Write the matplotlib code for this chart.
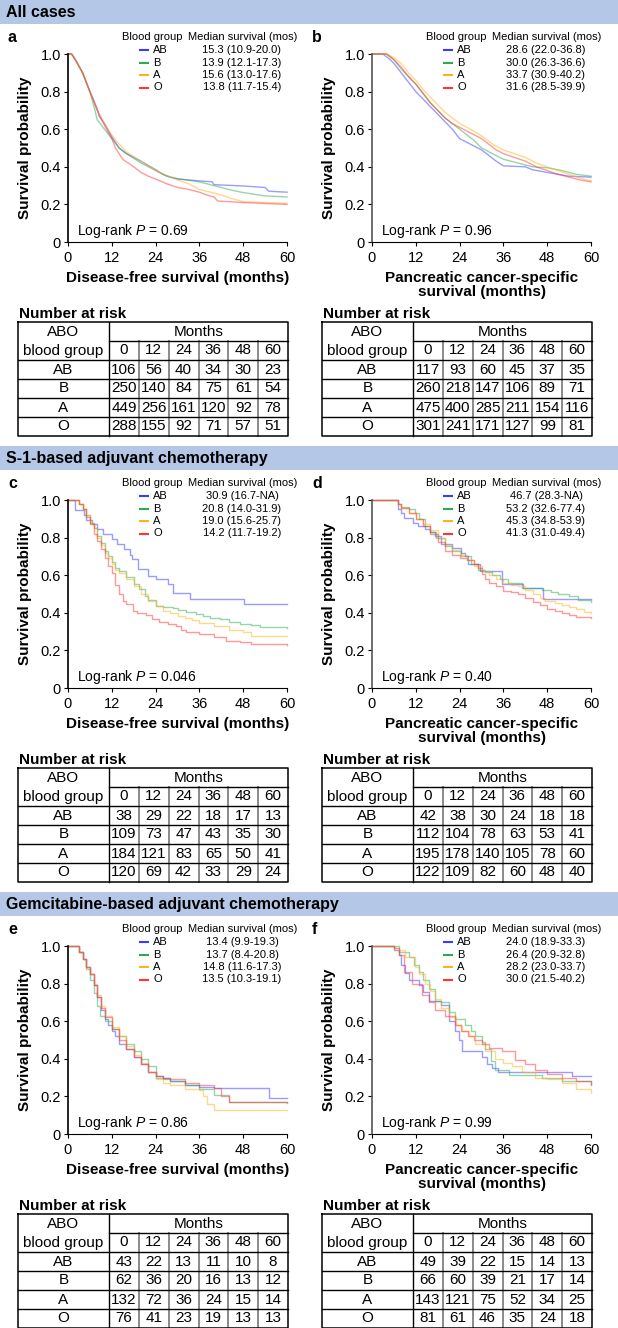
import numpy as np
import matplotlib
matplotlib.use('Agg')
import matplotlib.pyplot as plt

plt.rcParams['font.family'] = ['Liberation Sans', 'DejaVu Sans']
plt.rcParams['mathtext.fontset'] = 'custom'
plt.rcParams['mathtext.rm'] = 'Liberation Sans'
plt.rcParams['mathtext.it'] = 'Liberation Sans:italic'

groups = ['AB', 'B', 'A', 'O']
months = [0, 12, 24, 36, 48, 60]
cores = ['#3a3aff', '#2eaa55', '#ffb21e', '#ff3535']

# curvas (tempo em meses, probabilidade)
a_AB = [(0,1.0),(1,1.0),(2,0.97),(4,0.9),(6,0.8),(8,0.71),(8.5,0.67),(10,0.63),(12,0.56),(14,0.5),(16,0.47),(18,0.45),(20,0.43),(24,0.385),(26,0.36),(28,0.345),(30,0.335),(36,0.325),(39.5,0.32),(40,0.305),(48,0.298),(54,0.29),(55,0.27),(60,0.265)]
a_B = [(0,1.0),(1,1.0),(2,0.97),(4,0.9),(6,0.8),(7,0.73),(8,0.65),(10,0.6),(12,0.55),(14,0.5),(16,0.47),(20,0.42),(24,0.38),(27,0.35),(30,0.337),(36,0.32),(40,0.3),(42,0.29),(45,0.275),(48,0.263),(54,0.245),(60,0.24)]
a_A = [(0,1.0),(1,1.0),(2,0.97),(4,0.9),(6,0.8),(8,0.7),(10,0.63),(12,0.57),(14,0.52),(16,0.48),(20,0.43),(24,0.38),(27,0.355),(30,0.33),(33,0.31),(36,0.28),(39,0.265),(42,0.25),(45,0.23),(48,0.215),(54,0.21),(60,0.205)]
a_O = [(0,1.0),(1,1.0),(2,0.97),(4,0.9),(6,0.8),(8,0.7),(10,0.62),(12,0.55),(13,0.5),(14,0.47),(15,0.44),(18,0.4),(20,0.37),(22,0.35),(24,0.335),(27,0.31),(30,0.29),(33,0.28),(36,0.265),(38,0.25),(40,0.24),(41,0.218),(48,0.21),(54,0.205),(60,0.2)]

b_AB = [(0,1.0),(3,1.0),(5,0.97),(6,0.95),(8,0.9),(10,0.85),(12,0.8),(14,0.76),(16,0.72),(18,0.68),(20,0.64),(22,0.6),(24,0.55),(26,0.53),(28,0.51),(30,0.49),(32,0.46),(34,0.43),(36,0.405),(42,0.4),(44,0.384),(48,0.37),(54,0.35),(60,0.345)]
b_B = [(0,1.0),(4,1.0),(6,0.97),(8,0.92),(10,0.88),(12,0.84),(14,0.79),(16,0.74),(18,0.7),(20,0.66),(22,0.63),(24,0.6),(26,0.57),(28,0.54),(30,0.5),(33,0.47),(36,0.44),(40,0.42),(44,0.4),(48,0.395),(52,0.38),(56,0.36),(60,0.35)]
b_A = [(0,1.0),(4,1.0),(6,0.98),(8,0.95),(10,0.9),(12,0.86),(14,0.81),(16,0.77),(18,0.73),(20,0.69),(22,0.66),(24,0.63),(27,0.6),(30,0.565),(33,0.52),(36,0.49),(39,0.47),(42,0.45),(45,0.42),(48,0.40),(51,0.38),(54,0.36),(57,0.34),(60,0.325)]
b_O = [(0,1.0),(4,1.0),(6,0.97),(8,0.93),(10,0.88),(12,0.84),(14,0.79),(16,0.74),(18,0.7),(20,0.66),(22,0.63),(24,0.61),(27,0.58),(30,0.55),(32,0.52),(34,0.49),(36,0.47),(39,0.45),(42,0.43),(45,0.4),(48,0.38),(51,0.36),(54,0.345),(57,0.33),(60,0.32)]

c_AB = [(0,1.0),(2,0.947),(4.5,0.92),(5,0.895),(6.5,0.87),(8,0.845),(9.5,0.82),(12,0.79),(13.5,0.765),(15.4,0.74),(17,0.71),(17.5,0.685),(19.2,0.632),(21.8,0.594),(24,0.578),(27.3,0.553),(28.7,0.505),(33.3,0.476),(48.3,0.447),(60,0.447)]
c_B = [(0,1.0),(2.5,1.0),(3,0.98),(4,0.95),(5,0.92),(6,0.88),(7,0.85),(8,0.81),(9,0.77),(10,0.73),(11,0.7),(12,0.67),(13,0.64),(14,0.62),(16,0.59),(18,0.555),(19.5,0.526),(21,0.49),(22,0.47),(24,0.438),(26,0.43),(28.7,0.428),(30,0.415),(32.4,0.405),(35,0.395),(37,0.385),(39,0.375),(41.6,0.365),(44,0.35),(47,0.34),(50,0.335),(52.6,0.325),(60,0.318)]
c_A = [(0,1.0),(2.5,1.0),(3,0.98),(4,0.95),(5,0.92),(6,0.88),(7,0.85),(8,0.8),(9,0.76),(10,0.72),(11,0.69),(12,0.66),(13,0.63),(14,0.61),(16,0.58),(18,0.545),(20,0.5),(22,0.465),(24,0.435),(26,0.41),(28,0.4),(30,0.385),(32,0.37),(34,0.36),(36,0.348),(40,0.33),(44,0.31),(48,0.297),(50,0.278),(60,0.275)]
c_O = [(0,1.0),(2.5,1.0),(3,0.98),(4,0.95),(5,0.91),(6,0.87),(7,0.82),(8,0.78),(9,0.74),(10,0.69),(11,0.65),(12,0.61),(13,0.55),(14,0.5),(15,0.465),(15.8,0.445),(17.7,0.41),(19,0.4),(21.4,0.39),(23,0.365),(25,0.35),(27.5,0.34),(29.6,0.33),(31,0.31),(32.4,0.297),(36,0.285),(40,0.27),(43.4,0.25),(47,0.245),(50,0.232),(60,0.23)]

d_AB = [(0,1.0),(6.7,1.0),(7,0.95),(8,0.933),(8.8,0.906),(11.3,0.88),(12.6,0.86),(14.5,0.845),(16,0.83),(17.2,0.81),(19,0.765),(21.8,0.745),(24.5,0.72),(25.5,0.7),(26.3,0.66),(29.5,0.624),(35.5,0.553),(41.4,0.53),(46.8,0.473),(60,0.473)]
d_B = [(0,1.0),(6,1.0),(7,0.98),(8,0.965),(10,0.95),(11.7,0.933),(13,0.9),(14.5,0.86),(16,0.83),(17.5,0.8),(20,0.756),(22,0.73),(24.5,0.703),(27,0.66),(29,0.63),(31,0.615),(32.8,0.6),(35,0.58),(37.3,0.56),(41,0.53),(46.5,0.52),(49,0.51),(51,0.5),(54,0.49),(56.5,0.47),(60,0.46)]
d_A = [(0,1.0),(6,1.0),(7,0.98),(8,0.96),(10,0.93),(12,0.9),(14,0.87),(16,0.84),(18,0.8),(20,0.76),(22,0.735),(24,0.71),(26,0.68),(28,0.65),(30,0.62),(32,0.6),(34,0.58),(36,0.56),(38,0.55),(40,0.54),(42,0.52),(44,0.5),(46,0.48),(47.4,0.464),(50,0.45),(52,0.44),(54,0.43),(56,0.42),(58,0.405),(60,0.4)]
d_O = [(0,1.0),(6,1.0),(7,0.98),(8,0.96),(10,0.93),(12,0.9),(14,0.86),(16,0.82),(18,0.775),(20,0.73),(22,0.71),(24,0.694),(26,0.68),(28,0.66),(29,0.64),(30,0.606),(31,0.58),(32,0.56),(34,0.54),(36,0.518),(38,0.51),(40,0.5),(42,0.48),(44,0.46),(46,0.44),(48,0.42),(50,0.41),(52,0.4),(54,0.39),(56,0.38),(60,0.375)]

e_AB = [(0,1.0),(2.5,1.0),(3,0.97),(4,0.93),(5,0.89),(6,0.85),(7,0.79),(8,0.73),(9,0.66),(10,0.61),(11,0.58),(12,0.55),(13,0.52),(14,0.48),(16,0.45),(18,0.41),(20,0.37),(22,0.33),(24,0.31),(26,0.3),(28,0.28),(32,0.26),(36,0.25),(40,0.245),(54,0.245),(55,0.19),(60,0.19)]
e_B = [(0,1.0),(2.5,1.0),(3,0.97),(4,0.93),(5,0.88),(6,0.82),(7,0.75),(8,0.68),(8.7,0.63),(10,0.6),(12,0.56),(14,0.52),(16,0.48),(18,0.44),(20,0.4),(22,0.36),(24,0.3),(26,0.29),(28,0.28),(32,0.26),(36,0.24),(40,0.21),(44,0.17),(60,0.165)]
e_A = [(0,1.0),(2.5,1.0),(3,0.97),(4,0.93),(5,0.89),(6,0.85),(7,0.8),(8,0.74),(9,0.68),(10,0.63),(12,0.57),(14,0.52),(16,0.47),(18,0.42),(20,0.38),(22,0.33),(24,0.29),(26,0.27),(28,0.26),(32,0.24),(36,0.235),(37,0.2),(38,0.16),(40,0.13),(60,0.13)]
e_O = [(0,1.0),(2.5,1.0),(3,0.97),(4,0.93),(5,0.89),(6,0.85),(7,0.79),(8,0.73),(9,0.67),(10,0.62),(12,0.56),(14,0.5),(16,0.45),(18,0.41),(20,0.37),(22,0.33),(24,0.31),(26,0.3),(28,0.29),(32,0.27),(36,0.26),(40,0.245),(42,0.2),(44,0.17),(60,0.17)]

f_AB = [(0,1.0),(4.6,1.0),(6,0.98),(7.3,0.95),(8,0.9),(9.1,0.855),(10,0.82),(12.8,0.79),(14.1,0.757),(15.5,0.71),(19,0.687),(21,0.6),(22.8,0.55),(23.7,0.5),(24.6,0.444),(29.6,0.44),(30,0.41),(31.5,0.37),(33,0.35),(34.6,0.33),(54.7,0.306),(60,0.306)]
f_B = [(0,1.0),(5.9,1.0),(7.3,0.97),(10,0.94),(11.5,0.9),(12.8,0.86),(14,0.82),(15.5,0.77),(17.3,0.71),(19,0.7),(21,0.65),(22.8,0.61),(25.5,0.58),(27,0.55),(28.3,0.52),(30,0.49),(31,0.45),(32.5,0.39),(33.7,0.34),(37.4,0.315),(46.5,0.30),(52,0.28),(60,0.265)]
f_A = [(0,1.0),(5.5,1.0),(6.4,0.98),(9.1,0.94),(11.9,0.89),(13,0.85),(14.6,0.8),(16,0.76),(17.3,0.72),(19,0.67),(21,0.62),(23,0.58),(24.6,0.55),(26.5,0.52),(28.3,0.48),(31,0.44),(33.7,0.4),(36,0.38),(38.3,0.36),(41,0.33),(44.7,0.3),(48,0.29),(52,0.27),(56,0.24),(60,0.22)]
f_O = [(0,1.0),(4.6,1.0),(5.9,0.99),(7.3,0.95),(8.7,0.86),(11,0.8),(13.7,0.74),(15.5,0.7),(17.3,0.66),(20,0.63),(22.8,0.58),(24.5,0.55),(26.4,0.52),(28,0.5),(30,0.48),(32,0.46),(35.6,0.44),(39.2,0.395),(42,0.37),(44.7,0.34),(48,0.32),(52,0.3),(56,0.28),(60,0.26)]

# medianas e numero em risco
med_a = ['15.3 (10.9-20.0)', '13.9 (12.1-17.3)', '15.6 (13.0-17.6)', '13.8 (11.7-15.4)']
med_b = ['28.6 (22.0-36.8)', '30.0 (26.3-36.6)', '33.7 (30.9-40.2)', '31.6 (28.5-39.9)']
med_c = ['30.9 (16.7-NA)', '20.8 (14.0-31.9)', '19.0 (15.6-25.7)', '14.2 (11.7-19.2)']
med_d = ['46.7 (28.3-NA)', '53.2 (32.6-77.4)', '45.3 (34.8-53.9)', '41.3 (31.0-49.4)']
med_e = ['13.4 (9.9-19.3)', '13.7 (8.4-20.8)', '14.8 (11.6-17.3)', '13.5 (10.3-19.1)']
med_f = ['24.0 (18.9-33.3)', '26.4 (20.9-32.8)', '28.2 (23.0-33.7)', '30.0 (21.5-40.2)']

risk_a = [[106,56,40,34,30,23],[250,140,84,75,61,54],[449,256,161,120,92,78],[288,155,92,71,57,51]]
risk_b = [[117,93,60,45,37,35],[260,218,147,106,89,71],[475,400,285,211,154,116],[301,241,171,127,99,81]]
risk_c = [[38,29,22,18,17,13],[109,73,47,43,35,30],[184,121,83,65,50,41],[120,69,42,33,29,24]]
risk_d = [[42,38,30,24,18,18],[112,104,78,63,53,41],[195,178,140,105,78,60],[122,109,82,60,48,40]]
risk_e = [[43,22,13,11,10,8],[62,36,20,16,13,12],[132,72,36,24,15,14],[76,41,23,19,13,13]]
risk_f = [[49,39,22,15,14,13],[66,60,39,21,17,14],[143,121,75,52,34,25],[81,61,46,35,24,18]]

p_vals = ['0.69', '0.96', '0.046', '0.40', '0.86', '0.99']
secoes = ['All cases', 'S-1-based adjuvant chemotherapy', 'Gemcitabine-based adjuvant chemotherapy']
xlab_dfs = 'Disease-free survival (months)'
xlab_pcs = 'Pancreatic cancer-specific\nsurvival (months)'

W, H = 618, 1328
fig = plt.figure(figsize=(W/100, H/100), dpi=100)
bg = fig.add_axes([0, 0, 1, 1])
bg.set_xlim(0, W)
bg.set_ylim(H, 0)
bg.axis('off')


def painel(x0, y0, letra, curvas, meds, p, xlab, risco, passos, cor_eixo):
    x1 = x0 + 219
    top, bot = y0 + 54, y0 + 242
    ax = fig.add_axes([x0/W, 1 - bot/H, (x1-x0)/W, (bot-top)/H])
    ax.set_facecolor('none')
    for k, c in enumerate(curvas):
        t = [q[0] for q in c]
        s = [q[1] for q in c]
        ax.plot(t, s, color=cores[k], lw=1.0, alpha=0.5, clip_on=False,
                drawstyle='steps-post' if passos else 'default')
    ax.set_xlim(0, 60)
    ax.set_ylim(0, 1.0)
    ax.set_xticks(months)
    ax.set_yticks([0, 0.2, 0.4, 0.6, 0.8, 1.0])
    ax.set_yticklabels(['0', '0.2', '0.4', '0.6', '0.8', '1.0'])
    ax.spines['top'].set_visible(False)
    ax.spines['right'].set_visible(False)
    ax.spines['left'].set_color(cor_eixo)
    ax.spines['left'].set_linewidth(1.2)
    ax.tick_params(axis='both', labelsize=10.5, length=3, width=0.8, direction='out')
    ax.tick_params(axis='x', pad=3.5)
    ax.tick_params(axis='y', pad=2)
    ax.set_ylabel('Survival probability', fontsize=11, fontweight='bold', labelpad=6)
    ax.set_xlabel(xlab, fontsize=11, fontweight='bold', labelpad=4, linespacing=1.05)

    # legenda
    bg.text(x0 - 60, y0 + 37, letra, fontsize=11.5, fontweight='bold', va='center')
    bg.text(x0 + 54, y0 + 37, 'Blood group', fontsize=8, va='center')
    bg.text(x0 + 120, y0 + 37, 'Median survival (mos)', fontsize=8, va='center')
    for k in range(4):
        yy = y0 + 50 + k*12.5
        bg.plot([x0 + 72, x0 + 80], [yy, yy], color=cores[k], lw=1.5)
        bg.text(x0 + 85, yy, groups[k], fontsize=8, va='center')
        bg.text(x0 + 174, yy, meds[k], fontsize=8, va='center', ha='center')
    bg.text(x0 + 9, bot - 11, 'Log-rank $P$ = ' + p, fontsize=10, va='center')

    # tabela numero em risco
    tl, tr = x0 - 50, x1 + 1
    td = x0 + 41
    tt = y0 + 322
    rh = 19
    bg.text(tl + 1, y0 + 314, 'Number at risk', fontsize=11, fontweight='bold', va='center')
    cw = (tr - td) / 6
    for j in range(1, 6):
        bg.plot([td + j*cw]*2, [tt + rh, tt + 6*rh], color='#8a8a8a', lw=1.4)
    bg.plot([td, td], [tt, tt + 6*rh], color='black', lw=1)
    bg.plot([td, tr], [tt + rh, tt + rh], color='black', lw=1)
    for r in range(2, 6):
        bg.plot([tl, tr], [tt + r*rh, tt + r*rh], color='black', lw=1)
    bg.plot([tl, tr, tr, tl, tl], [tt, tt, tt + 6*rh, tt + 6*rh, tt], color='black', lw=1.1)
    bg.text((tl + td)/2, tt + rh*0.5, 'ABO', fontsize=11, ha='center', va='center')
    bg.text((tl + td)/2, tt + rh*1.5, 'blood group', fontsize=11, ha='center', va='center')
    bg.text((td + tr)/2, tt + rh*0.5, 'Months', fontsize=11, ha='center', va='center')
    for j, m in enumerate(months):
        bg.text(td + (j + 0.5)*cw, tt + rh*1.5, str(m), fontsize=11, ha='center', va='center')
    for r in range(4):
        yy = tt + rh*(r + 2.5)
        bg.text((tl + td)/2, yy, groups[r], fontsize=11, ha='center', va='center')
        for j in range(6):
            bg.text(td + (j + 0.5)*cw, yy, str(risco[r][j]), fontsize=11, ha='center', va='center')


paineis = [
    ('a', [a_AB, a_B, a_A, a_O], med_a, risk_a, xlab_dfs, False),
    ('b', [b_AB, b_B, b_A, b_O], med_b, risk_b, xlab_pcs, False),
    ('c', [c_AB, c_B, c_A, c_O], med_c, risk_c, xlab_dfs, True),
    ('d', [d_AB, d_B, d_A, d_O], med_d, risk_d, xlab_pcs, True),
    ('e', [e_AB, e_B, e_A, e_O], med_e, risk_e, xlab_dfs, True),
    ('f', [f_AB, f_B, f_A, f_O], med_f, risk_f, xlab_pcs, True),
]

for i, titulo in enumerate(secoes):
    y0 = 446 * i
    bg.add_patch(plt.Rectangle((0, y0), W, 24, color='#b4c7e7', lw=0))
    bg.text(6, y0 + 12.5, titulo, fontsize=11.5, fontweight='bold', va='center')
    for lado in range(2):
        letra, curvas, meds, risco, xlab, passos = paineis[2*i + lado]
        x0 = 68 if lado == 0 else 372
        painel(x0, y0, letra, curvas, meds, p_vals[2*i + lado], xlab, risco, passos,
               'black' if lado == 0 else '#555555')

fig.savefig('out.png', dpi=100)
